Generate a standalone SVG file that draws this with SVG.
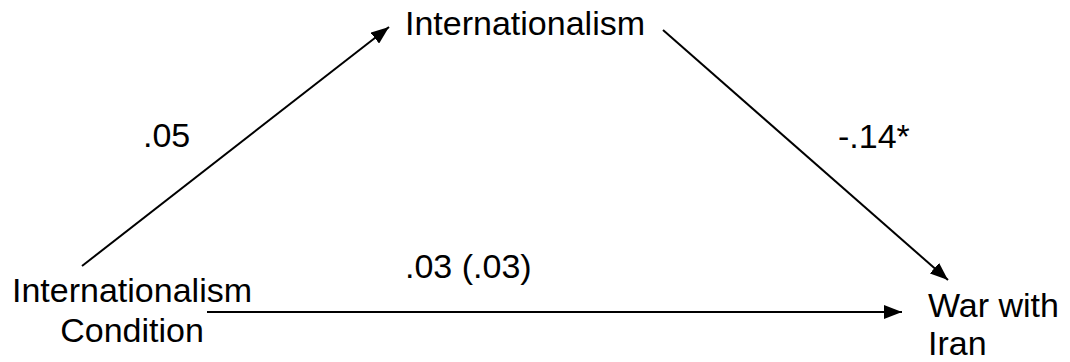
<svg xmlns="http://www.w3.org/2000/svg" width="1070" height="362" viewBox="0 0 1070 362">
<style>
text{font-family:"Liberation Sans",Arial,sans-serif;font-size:34px;fill:#000}
.c{stroke:#000;stroke-width:2;fill:none}
</style>
<defs>
<marker id="ah" markerUnits="userSpaceOnUse" markerWidth="20" markerHeight="14" refX="18" refY="7" orient="auto">
<path d="M0,0 L18,7 L0,14 z" fill="#000"/>
</marker>
</defs>
<rect width="1070" height="362" fill="#fff"/>
<g id="connectors">
<line class="c" x1="82" y1="266" x2="389" y2="27" marker-end="url(#ah)"/>
<line class="c" x1="663" y1="30" x2="948" y2="280" marker-end="url(#ah)"/>
<line class="c" x1="207" y1="312" x2="902" y2="312" marker-end="url(#ah)"/>
<text x="143" y="147">.05</text>
<text x="838" y="148">-.14*</text>
<text x="405" y="278">.03 (.03)</text>
</g>
<g id="internationalism">
<text x="405" y="35">Internationalism</text>
</g>
<g id="condition">
<text x="12" y="302">Internationalism</text>
<text x="132" y="342" text-anchor="middle">Condition</text>
</g>
<g id="war">
<text x="928" y="317">War with</text>
<text x="928" y="355">Iran</text>
</g>
</svg>
